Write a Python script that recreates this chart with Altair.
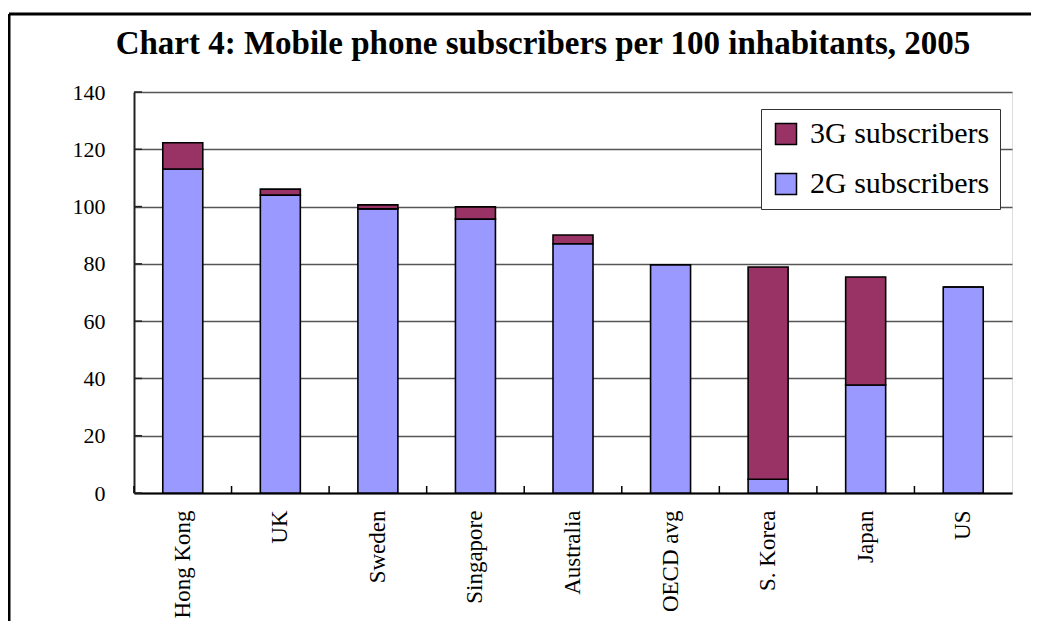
import altair as alt
import pandas as pd

countries = ["Hong Kong", "UK", "Sweden", "Singapore", "Australia",
             "OECD avg", "S. Korea", "Japan", "US"]
subs_2g = [113.1, 104.0, 99.2, 95.6, 87.0, 79.7, 4.8, 37.7, 71.9]
subs_3g = [9.2, 2.1, 1.4, 4.3, 3.1, 0.0, 74.1, 37.7, 0.0]
series = ["3G subscribers", "2G subscribers"]
colors = ["#993366", "#9999FF"]
y_ticks = [0, 20, 40, 60, 80, 100, 120, 140]

rows = []
for c, a, b in zip(countries, subs_2g, subs_3g):
    rows.append({"country": c, "series": "2G subscribers", "value": a, "ord": 0})
    rows.append({"country": c, "series": "3G subscribers", "value": b, "ord": 1})
df = pd.DataFrame(rows)
df_c = pd.DataFrame({"country": countries})
df_t = pd.DataFrame({"t": y_ticks})

FONT = "Liberation Serif, Times New Roman, serif"
W, H = 878, 401

xscale = alt.Scale(paddingInner=0, paddingOuter=0)

bars = alt.Chart(df).mark_bar(
    width=alt.RelativeBandSize(0.41), stroke="black", strokeWidth=1.6
).encode(
    x=alt.X("country:N", sort=countries, scale=xscale, title=None,
            axis=alt.Axis(labelAngle=-90, labelFont=FONT, labelFontSize=23,
                          labelColor="black", labelPadding=17, ticks=False,
                          domainColor="black", domainWidth=2, labelLimit=0)),
    y=alt.Y("value:Q", stack="zero",
            scale=alt.Scale(domain=[0, 140], nice=False),
            title=None,
            axis=alt.Axis(values=y_ticks, labelFont=FONT, labelFontSize=22,
                          labelColor="black", labelPadding=29, ticks=False,
                          grid=True, gridColor="#555555", gridWidth=1.5,
                          domainColor="#222222", domainWidth=2)),
    color=alt.Color("series:N", scale=alt.Scale(domain=series, range=colors),
                    legend=alt.Legend(orient="none", legendX=627, legendY=17,
                                      title=None, fillColor="white",
                                      strokeColor="#333333", padding=10,
                                      symbolType="square", symbolSize=441,
                                      symbolStrokeColor="black",
                                      symbolStrokeWidth=1.5, symbolOpacity=1,
                                      labelFont=FONT, labelFontSize=30,
                                      labelColor="black", labelOffset=9,
                                      rowPadding=20, labelLimit=0)),
    order=alt.Order("ord:Q"),
)

xticks = alt.Chart(df_c).mark_rule(color="black", strokeWidth=1.5).encode(
    x=alt.X("country:N", sort=countries, bandPosition=0),
    y=alt.value(H),
    y2=alt.value(H - 7),
)

yticks = alt.Chart(df_t).mark_rule(color="#222222", strokeWidth=1.5).encode(
    y=alt.Y("t:Q"),
    x=alt.value(0),
    x2=alt.value(8),
)

frame_v = alt.Chart(df_c.head(1)).mark_rule(color="black", strokeWidth=3).encode(
    x=alt.value(-125), y=alt.value(-78), y2=alt.value(560))
frame_h = alt.Chart(df_c.head(1)).mark_rule(color="black", strokeWidth=3).encode(
    x=alt.value(-125), x2=alt.value(920), y=alt.value(-78))

chart = alt.layer(bars, xticks, yticks, frame_v, frame_h).properties(
    width=W, height=H,
    autosize=alt.AutoSizeParams(type="none"),
    padding={"left": 126, "top": 84, "right": 19, "bottom": 128},
    title=alt.TitleParams(
        "Chart 4: Mobile phone subscribers per 100 inhabitants, 2005",
        font=FONT, fontSize=33, fontWeight="bold", color="black",
        anchor="middle", dx=-30, offset=0, dy=48),
).configure_view(
    fill="#C0C0C0", stroke="#808080", strokeWidth=2
).configure(background="white", font=FONT)

chart.save("out.html", embed_options={"renderer": "svg", "actions": False})
